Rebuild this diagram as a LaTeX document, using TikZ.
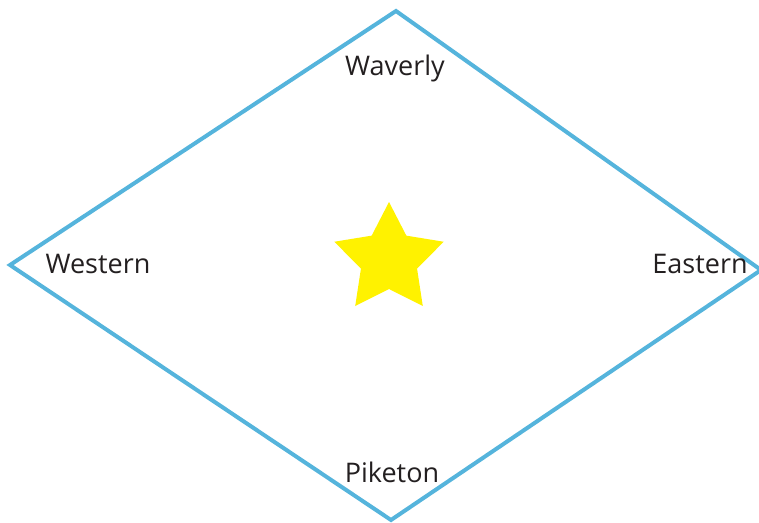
\documentclass[tikz,border=0pt]{standalone}
\usepackage{fontspec}
\setmainfont{Open Sans}
\usetikzlibrary{positioning,shapes.geometric}
\definecolor{edgeblue}{HTML}{55B4DC}
\definecolor{staryellow}{HTML}{FFF200}
\definecolor{labelgray}{HTML}{231F20}
\tikzset{
    every node/.style={font=\fontsize{27}{30}\selectfont,text=labelgray},
    townlabel/.style={inner sep=0pt,anchor=base},
    border/.style={draw=edgeblue,line width=4pt,line join=miter},
    centerstar/.style={star,star points=5,star point ratio=1.95,fill=staryellow,draw=none,minimum size=115pt,inner sep=0pt}
}
\begin{document}
\begin{tikzpicture}[x=1pt,y=-1pt]
    \useasboundingbox (0,0) rectangle (759,522);
    \coordinate (top) at (396,11);
    \coordinate (left) at (10,265);
    \coordinate (right) at (761,270);
    \coordinate (bottom) at (391,520);
    \draw[border] (top)--(right)--(bottom)--(left)--cycle;
    \node[centerstar] (star) at (389,259.5) {};
    \node[townlabel] (waverly) at (395,75) {Waverly};
    \node[townlabel] (western) at (98,273) {Western};
    \node[townlabel] (eastern) at (700,273) {Eastern};
    \node[townlabel] (piketon) at (392,482) {Piketon};
\end{tikzpicture}
\end{document}
